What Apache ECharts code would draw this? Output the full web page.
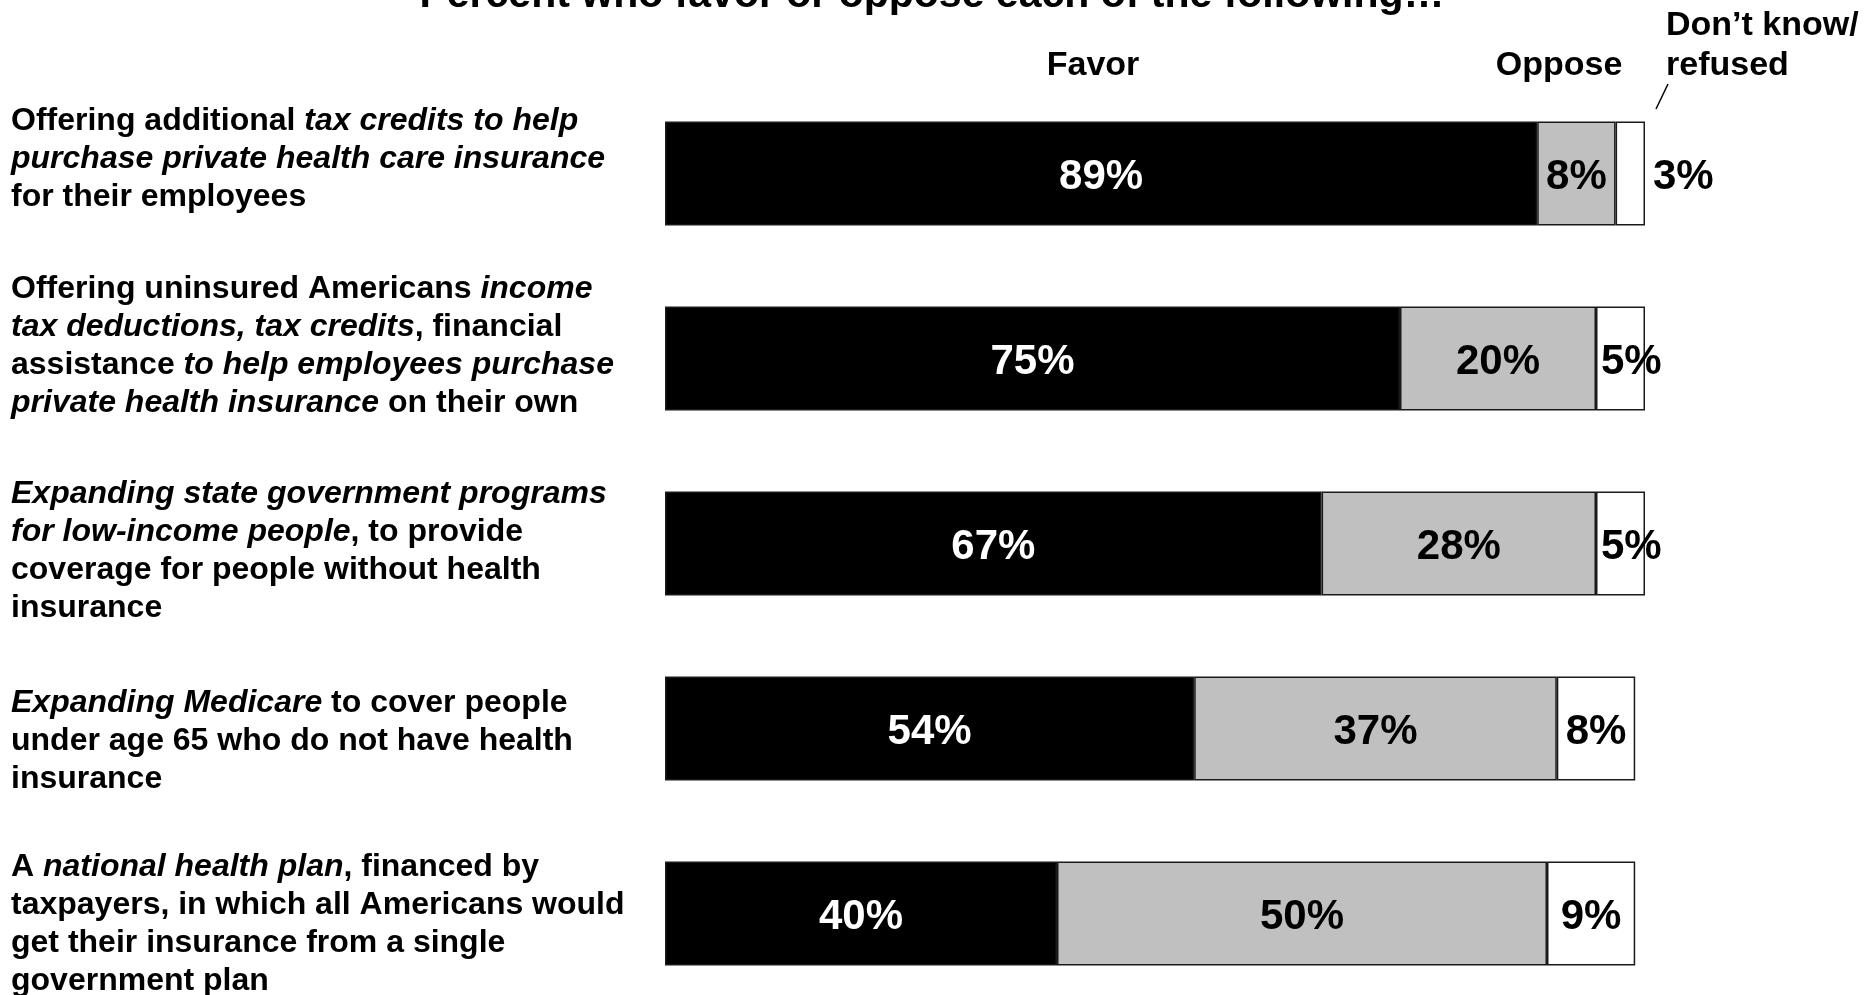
<!DOCTYPE html>
<html>
<head>
<meta charset="utf-8">
<script src="https://cdn.jsdelivr.net/npm/echarts@6/dist/echarts.min.js"></script>
<style>
  html, body { margin: 0; padding: 0; background: #fff; }
  #chart { width: 1872px; height: 995px; }
</style>
</head>
<body>
<div id="chart"></div>
<script>
// Survey items (rich-text markup: {n|...} plain bold, {i|...} bold italic)
const categories = [
  '{n|Offering additional }{i|tax credits to help}\n{i|purchase private health care insurance}\n{n|for their employees}',
  '{n|Offering uninsured Americans }{i|income}\n{i|tax deductions, tax credits}{n|, financial}\n{n|assistance }{i|to help employees purchase}\n{i|private health insurance}{n| on their own}',
  '{i|Expanding state government programs}\n{i|for low-income people}{n|, to provide}\n{n|coverage for people without health}\n{n|insurance}',
  '{i|Expanding Medicare}{n| to cover people}\n{n|under age 65 who do not have health}\n{n|insurance}',
  '{n|A }{i|national health plan}{n|, financed by}\n{n|taxpayers, in which all Americans would}\n{n|get their insurance from a single}\n{n|government plan}'
];
const favor = [89, 75, 67, 54, 40];
const oppose = [8, 20, 28, 37, 50];
const dontKnow = [3, 5, 5, 8, 9];
const seriesNames = ['Favor', 'Oppose', 'Don\u2019t know/\nrefused'];
const titleText = 'Percent who favor or oppose each of the following\u2026';

// Layout helpers (kept apart from the values)
const labelShift = [-14, -12, 8, 13, 11];          // vertical nudge of each item text
const dkLabelPos = ['right', 'insideLeft', 'insideLeft', 'inside', 'inside'];

const FONT = '"Liberation Sans", Arial, Helvetica, sans-serif';

const chart = echarts.init(document.getElementById('chart'), null, { renderer: 'canvas' });

const richStyles = {
  n: { fontFamily: FONT, fontSize: 32, fontWeight: 'bold', fontStyle: 'normal', color: '#000', lineHeight: 38, align: 'left' },
  i: { fontFamily: FONT, fontSize: 32, fontWeight: 'bold', fontStyle: 'italic', color: '#000', lineHeight: 38, align: 'left' }
};

const yData = categories.map((c, i) => {
  const s = labelShift[i];
  const pad = s < 0 ? [0, 0, -2 * s, 0] : [2 * s, 0, 0, 0];
  return {
    value: c,
    textStyle: {
      align: 'left',
      verticalAlign: 'middle',
      padding: pad,
      fontFamily: FONT, fontSize: 32, fontWeight: 'bold', color: '#000',
      rich: richStyles
    }
  };
});

const valueLabel = (color) => ({
  show: true,
  position: 'inside',
  offset: [0, 4],
  formatter: '{c}%',
  color: color,
  fontFamily: FONT,
  fontWeight: 'bold',
  fontSize: 42
});

const segStyle = (fill) => ({
  color: fill,
  borderColor: '#1a1a1a',
  borderWidth: 1.5
});

const option = {
  backgroundColor: '#ffffff',
  animation: false,
  grid: { left: 665, width: 980, top: 81, height: 925, containLabel: false, outerBoundsMode: 'none' },
  xAxis: {
    type: 'value', min: 0, max: 100, show: false
  },
  yAxis: {
    type: 'category',
    inverse: true,
    data: yData,
    axisLine: { show: false },
    axisTick: { show: false },
    splitLine: { show: false },
    axisLabel: {
      align: 'left',
      margin: 654,
      fontFamily: FONT,
      fontSize: 32,
      fontWeight: 'bold',
      color: '#000',
      hideOverlap: false,
      rich: richStyles
    }
  },
  series: [
    {
      name: seriesNames[0], type: 'bar', stack: 'total', barWidth: 104,
      itemStyle: segStyle('#000000'),
      label: valueLabel('#ffffff'),
      data: favor
    },
    {
      name: seriesNames[1], type: 'bar', stack: 'total', barWidth: 104,
      itemStyle: segStyle('#c0c0c0'),
      label: valueLabel('#000000'),
      data: oppose
    },
    {
      name: seriesNames[2], type: 'bar', stack: 'total', barWidth: 104,
      itemStyle: segStyle('#ffffff'),
      label: valueLabel('#000000'),
      data: dontKnow.map((v, i) => ({
        value: v,
        label: { position: dkLabelPos[i], distance: dkLabelPos[i] === 'right' ? 8 : 5 }
      }))
    }
  ],
  graphic: [
    {
      type: 'text', x: 932, y: -4,
      style: { text: titleText, font: 'bold 41px ' + FONT, fill: '#000', align: 'center', verticalAlign: 'middle' }
    },
    {
      type: 'text', x: 1093, y: 66,
      style: { text: seriesNames[0], font: 'bold 34px ' + FONT, fill: '#000', align: 'center', verticalAlign: 'middle' }
    },
    {
      type: 'text', x: 1559, y: 66,
      style: { text: seriesNames[1], font: 'bold 34px ' + FONT, fill: '#000', align: 'center', verticalAlign: 'middle' }
    },
    {
      type: 'text', x: 1666, y: 46,
      style: { text: seriesNames[2], font: 'bold 34px ' + FONT, fill: '#000', align: 'left', verticalAlign: 'middle', lineHeight: 40 }
    },
    {
      type: 'line',
      shape: { x1: 1656, y1: 109, x2: 1668, y2: 84 },
      style: { stroke: '#000', lineWidth: 1.5 }
    }
  ]
};

chart.setOption(option);
</script>
</body>
</html>
